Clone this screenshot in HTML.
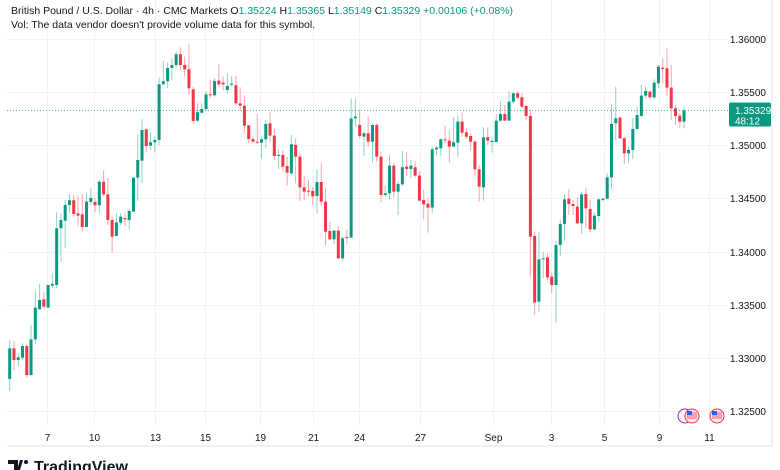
<!DOCTYPE html>
<html><head><meta charset="utf-8"><style>
body{margin:0;background:#fff;width:780px;height:470px;overflow:hidden;font-family:"Liberation Sans",sans-serif}
svg{display:block}
</style></head><body>
<svg id="chart" width="780" height="470" xmlns="http://www.w3.org/2000/svg">
<rect width="780" height="470" fill="#fff"/>
<g id="grid"></g>
<g id="candles"></g>
<g id="axes"></g>
<line x1="7" y1="446" x2="772" y2="446" stroke="#e0e3eb" stroke-width="1"/>
<line x1="772" y1="0" x2="772" y2="446" stroke="#e0e3eb" stroke-width="1"/>
<text x="11" y="14" font-size="10.5" fill="#131722">British Pound / U.S. Dollar · 4h · CMC Markets <tspan>O</tspan><tspan fill="#089981">1.35224</tspan> <tspan>H</tspan><tspan fill="#089981">1.35365</tspan> <tspan>L</tspan><tspan fill="#089981">1.35149</tspan> <tspan>C</tspan><tspan fill="#089981">1.35329 +0.00106 (+0.08%)</tspan></text>
<text x="11" y="28" font-size="10.5" fill="#131722">Vol: The data vendor doesn't provide volume data for this symbol.</text>
<g>
<circle cx="685" cy="416" r="7" fill="#fff" stroke="#9c27b0" stroke-width="1"/>
<circle cx="692" cy="416" r="7" fill="#fde7ea" stroke="#f23645" stroke-width="1"/>
<rect x="687" y="412" width="10" height="7" fill="#f7a1ab"/><rect x="687" y="411" width="5" height="4" fill="#2962ff"/>
<circle cx="717" cy="416" r="7" fill="#fde7ea" stroke="#f23645" stroke-width="1"/>
<rect x="712" y="412" width="10" height="7" fill="#f7a1ab"/><rect x="712" y="411" width="5" height="4" fill="#2962ff"/>
</g>
<g>
<path d="M8 460h10v10h-4v-6h-6z M20 460h3l-3 10h-3z" fill="#131722"/>
<circle cx="26" cy="462" r="2" fill="#131722"/>
<text x="34" y="472" font-size="16" font-weight="bold" fill="#131722">TradingView</text>
</g>
</svg>
<script>
const opens=[132800,133088,132979,133001,133110,132837,133173,133456,133550,133472,133679,133685,134219,134291,134439,134483,134360,134351,134231,134467,134467,134436,134658,134539,134297,134147,134272,134316,134297,134376,134696,134856,135151,134998,135029,135051,135575,135604,135729,135757,135858,135757,135717,135528,135233,135308,135343,135481,135472,135610,135591,135522,135572,135566,135396,135374,135189,135060,135035,135026,135057,135208,135092,134900,134910,134806,134737,135004,134894,134605,134574,134571,134523,134655,134470,134194,134115,134197,133936,134137,134131,135255,135192,135082,135114,135035,135192,134894,134533,134549,134809,134564,134633,134800,134778,134794,134715,134486,134451,134414,134963,134972,135057,135045,134988,135026,135224,135123,135089,135035,134775,134605,135076,135032,135032,135233,135296,135233,135412,135491,135453,135371,135277,134147,133528,133927,133946,133764,133685,134062,134260,134498,134448,134423,134266,134542,134401,134209,134335,134486,134498,134699,135208,135261,135067,134925,134957,135155,135277,135469,135506,135453,135585,135732,135726,135544,135349,135280,135224];
const highs=[133167,133158,133041,133136,133129,133305,133632,133691,133622,133685,133801,134370,134360,134486,134539,134533,134527,134539,134549,134596,134501,134674,134768,134690,134329,134360,134360,134360,134407,134696,135104,135246,135161,135123,135082,135638,135795,135779,135817,135883,135924,135836,135955,135553,135396,135396,135506,135616,135632,135764,135648,135679,135654,135654,135547,135469,135193,135082,135296,135082,135239,135318,135161,134963,134957,134894,135098,135064,134925,134712,134674,134611,134775,134831,134602,134275,134203,134241,134140,134209,135443,135443,135334,135129,135271,135208,135208,134941,134621,134910,134831,134658,134947,134935,134863,134847,134753,134580,134501,134988,134994,135067,135186,135139,135265,135280,135308,135161,135114,135051,134815,135170,135170,135082,135296,135412,135381,135506,135500,135506,135491,135381,135340,134187,134181,133999,133983,133795,134100,134297,134542,134586,134486,134511,134564,134602,134486,134370,134498,134508,134737,135381,135553,135271,135082,134988,135255,135365,135569,135553,135516,135622,135757,135820,135914,135757,135381,135302,135365];
const lows=[132687,132884,132916,132979,132815,132830,133129,133456,133465,133472,133654,133654,133905,134030,134360,134329,134244,134187,134231,134439,134370,134366,134517,134250,133990,134147,134250,134241,134209,134376,134476,134643,134932,134957,134932,135001,135575,135538,135616,135726,135710,135648,135475,135208,135224,135296,135318,135443,135459,135547,135522,135491,135553,135381,135327,135114,135026,135026,135013,134872,134972,135035,134863,134775,134753,134621,134721,134643,134476,134486,134517,134439,134360,134432,134056,134109,134071,133930,133905,134071,134131,135177,135067,134903,134988,134841,134847,134464,134517,134492,134508,134344,134618,134712,134690,134699,134470,134304,134178,134366,134910,134903,135020,134837,134988,134894,135082,135060,134951,134706,134470,134480,135004,134932,135032,135224,135233,135233,135396,135434,135349,135239,133764,133402,133434,133748,133732,133607,133330,133958,134103,134344,134344,134260,134166,134219,134181,134200,134282,134470,134492,134586,135051,135060,134825,134837,134872,135151,135271,135443,135443,135434,135538,135585,135465,135239,135192,135170,135161];
const closes=[133088,132979,133004,133110,132837,133173,133472,133544,133481,133685,133695,134219,134297,134439,134483,134354,134338,134231,134470,134505,134436,134658,134539,134297,134140,134275,134329,134304,134382,134696,134863,135145,134994,135029,135051,135575,135604,135729,135757,135858,135757,135717,135538,135230,135312,135343,135481,135472,135607,135575,135575,135560,135582,135396,135374,135186,135060,135035,135026,135057,135202,135092,134900,134910,134800,134743,135010,134894,134605,134564,134564,134520,134655,134470,134187,134115,134197,133936,134125,134128,135255,135271,135089,135114,135035,135192,134894,134533,134549,134809,134564,134637,134794,134778,134809,134715,134480,134445,134414,134963,134979,135057,135051,134988,135029,135224,135120,135082,135035,134775,134611,135076,135045,135042,135233,135296,135233,135412,135491,135450,135365,135277,134140,133519,133927,133936,133757,133685,134062,134260,134492,134448,134429,134266,134539,134407,134209,134338,134492,134498,134699,135202,135255,135067,134925,134957,135155,135286,135469,135513,135453,135591,135742,135720,135544,135349,135277,135224,135329];
const priceTicks=[1.36,1.355,1.35,1.345,1.34,1.335,1.33,1.325];
const dateLabels=["7","10","13","15","19","21","24","27","Sep","3","5","9","11"];
const dateCandleIdx=[8.74,19.75,34.0,45.8,58.6,71.1,81.8,96.1,113.2,126.8,139.3,152.1,163.8];
const lastPrice=1.35329;

const NS="http://www.w3.org/2000/svg";
function xOf(i){return 9.7+i*4.268;}
function yOf(p){return 92.3+(1.355-p)*10617;}
function mk(tag,attrs,parent){const e=document.createElementNS(NS,tag);for(const k in attrs)e.setAttribute(k,attrs[k]);parent.appendChild(e);return e;}
const grid=document.getElementById('grid'),cg=document.getElementById('candles'),ax=document.getElementById('axes');
priceTicks.forEach(p=>{
  const y=Math.round(yOf(p))+0.5;
  const l=mk('line',{x1:7,x2:728,y1:y,y2:y,stroke:'#f0f3fa','stroke-width':1},grid);
  
  
  const t=mk('text',{x:766,y:y+3.5,'font-size':10,fill:'#131722','text-anchor':'end'},ax);
  t.textContent=p.toFixed(5);
  
  
});
dateLabels.forEach((d,k)=>{
  const x=Math.round(xOf(dateCandleIdx[k]))+0.5;
  const l=mk('line',{x1:x,x2:x,y1:0,y2:425,stroke:'#f0f3fa','stroke-width':1},grid);
  
  
  const t=mk('text',{x:x,y:441,'font-size':10,fill:'#131722','text-anchor':'middle'},ax);
  t.textContent=d;
  
  
});
opens.forEach((o,i)=>{
  const O=o/1e5,H=highs[i]/1e5,L=lows[i]/1e5,C=closes[i]/1e5;
  const up=C>=O,col=up?'#089981':'#f23645';
  const x=xOf(i);
  const w=mk('line',{x1:x,x2:x,y1:yOf(H),y2:yOf(L),stroke:col,'stroke-opacity':0.45,'stroke-width':1},cg);
  
  
  const yt=yOf(Math.max(O,C)),yb=yOf(Math.min(O,C));
  const b=mk('rect',{x:x-1.5,y:yt,width:3,height:Math.max(1,yb-yt),fill:col},cg);
  
  
});
const ly=yOf(lastPrice);
const dl=mk('line',{x1:7,x2:728,y1:ly,y2:ly,stroke:'#089981','stroke-dasharray':'1 2','stroke-width':1,'stroke-opacity':0.7},ax);


const bx=mk('rect',{x:729,y:ly-8,width:42,height:24,fill:'#089981',rx:2},ax);


const t1=mk('text',{x:735,y:ly+3.5,'font-size':10,fill:'#fff'},ax);
t1.textContent=lastPrice.toFixed(5);


const t2=mk('text',{x:735,y:ly+14,'font-size':10,fill:'#fff'},ax);
t2.textContent='48:12';


</script>
</body></html>
